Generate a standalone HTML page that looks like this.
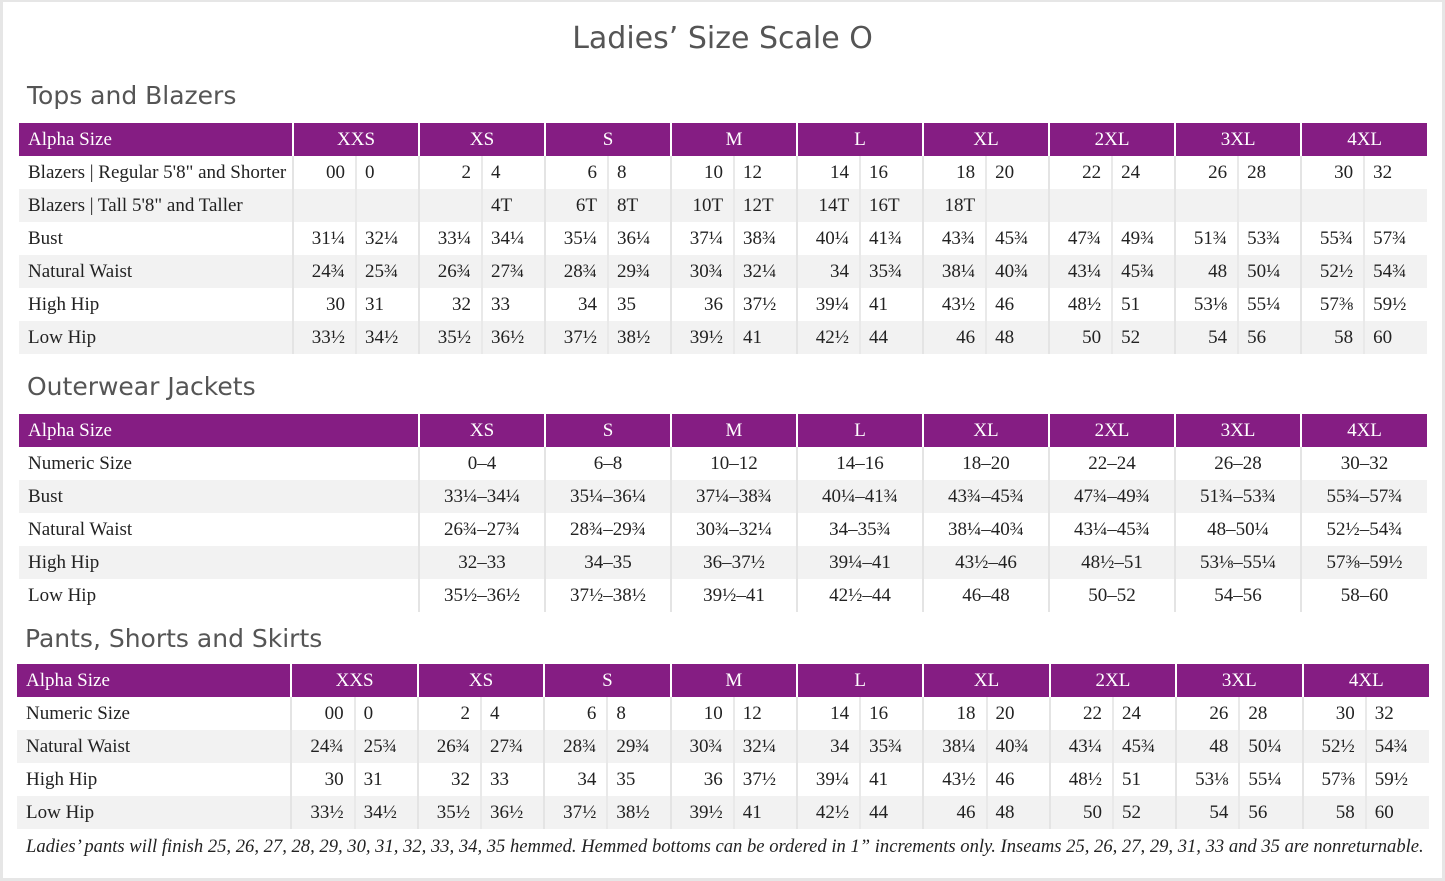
<!DOCTYPE html>
<html><head><meta charset="utf-8">
<style>
html,body{margin:0;padding:0;}
body{width:1445px;height:881px;position:relative;background:#fff;overflow:hidden;}
.frame{position:absolute;left:0;top:0;width:1439px;height:876px;border-left:3px solid #e6e6e6;border-top:2px solid #e6e6e6;border-right:3px solid #e6e6e6;border-bottom:3px solid #e6e6e6;}
.sans{font-family:"DejaVu Sans","Liberation Sans",sans-serif;color:#555;position:absolute;white-space:nowrap;}
h1{margin:0;font-weight:normal;font-size:30px;left:0;width:1445px;text-align:center;top:21px;}
.h2{font-size:25px;}
table{position:absolute;border-collapse:collapse;table-layout:fixed;font-family:"Liberation Serif",serif;font-size:19px;color:#222;}
td{height:33px;padding:0;white-space:nowrap;overflow:hidden;line-height:33px;}
tr.hd td{background:#851d83;color:#fff;text-align:center;border-left:2px solid #fff;height:33px;}
tr.hd td:first-child{border-left:none;text-align:left;padding-left:9px;}
tr.g td{background:#f2f2f2;}
td.lab{padding-left:9px;text-align:left;}
td.l{text-align:right;padding-right:10px;border-left:2px solid #e4e4e4;}
td.r{text-align:left;padding-left:8px;border-left:2px solid #e9e9e9;}
td.c{text-align:center;border-left:2px solid #e4e4e4;}
.note{position:absolute;left:26px;top:836px;font-family:"Liberation Serif",serif;font-style:italic;font-size:18.6px;color:#222;white-space:nowrap;}
</style></head><body>
<div class="frame"></div>
<h1 class="sans">Ladies’ Size Scale O</h1>
<div class="sans h2" style="left:27px;top:81px;">Tops and Blazers</div>

<table style="left:19px;top:123px;width:1408px;">
<colgroup><col style="width:274px"><col span="18" style="width:63px"></colgroup>
<tr class="hd"><td>Alpha Size</td><td colspan="2">XXS</td><td colspan="2">XS</td><td colspan="2">S</td><td colspan="2">M</td><td colspan="2">L</td><td colspan="2">XL</td><td colspan="2">2XL</td><td colspan="2">3XL</td><td colspan="2">4XL</td></tr>
<tr><td class="lab">Blazers | Regular 5'8" and Shorter</td><td class="l">00</td><td class="r">0</td><td class="l">2</td><td class="r">4</td><td class="l">6</td><td class="r">8</td><td class="l">10</td><td class="r">12</td><td class="l">14</td><td class="r">16</td><td class="l">18</td><td class="r">20</td><td class="l">22</td><td class="r">24</td><td class="l">26</td><td class="r">28</td><td class="l">30</td><td class="r">32</td></tr>
<tr class="g"><td class="lab">Blazers | Tall 5'8" and Taller</td><td class="l"></td><td class="r"></td><td class="l"></td><td class="r">4T</td><td class="l">6T</td><td class="r">8T</td><td class="l">10T</td><td class="r">12T</td><td class="l">14T</td><td class="r">16T</td><td class="l">18T</td><td class="r"></td><td class="l"></td><td class="r"></td><td class="l"></td><td class="r"></td><td class="l"></td><td class="r"></td></tr>
<tr><td class="lab">Bust</td><td class="l">31¼</td><td class="r">32¼</td><td class="l">33¼</td><td class="r">34¼</td><td class="l">35¼</td><td class="r">36¼</td><td class="l">37¼</td><td class="r">38¾</td><td class="l">40¼</td><td class="r">41¾</td><td class="l">43¾</td><td class="r">45¾</td><td class="l">47¾</td><td class="r">49¾</td><td class="l">51¾</td><td class="r">53¾</td><td class="l">55¾</td><td class="r">57¾</td></tr>
<tr class="g"><td class="lab">Natural Waist</td><td class="l">24¾</td><td class="r">25¾</td><td class="l">26¾</td><td class="r">27¾</td><td class="l">28¾</td><td class="r">29¾</td><td class="l">30¾</td><td class="r">32¼</td><td class="l">34</td><td class="r">35¾</td><td class="l">38¼</td><td class="r">40¾</td><td class="l">43¼</td><td class="r">45¾</td><td class="l">48</td><td class="r">50¼</td><td class="l">52½</td><td class="r">54¾</td></tr>
<tr><td class="lab">High Hip</td><td class="l">30</td><td class="r">31</td><td class="l">32</td><td class="r">33</td><td class="l">34</td><td class="r">35</td><td class="l">36</td><td class="r">37½</td><td class="l">39¼</td><td class="r">41</td><td class="l">43½</td><td class="r">46</td><td class="l">48½</td><td class="r">51</td><td class="l">53⅛</td><td class="r">55¼</td><td class="l">57⅜</td><td class="r">59½</td></tr>
<tr class="g"><td class="lab">Low Hip</td><td class="l">33½</td><td class="r">34½</td><td class="l">35½</td><td class="r">36½</td><td class="l">37½</td><td class="r">38½</td><td class="l">39½</td><td class="r">41</td><td class="l">42½</td><td class="r">44</td><td class="l">46</td><td class="r">48</td><td class="l">50</td><td class="r">52</td><td class="l">54</td><td class="r">56</td><td class="l">58</td><td class="r">60</td></tr>
</table>

<div class="sans h2" style="left:27px;top:372px;">Outerwear Jackets</div>
<table style="left:19px;top:414px;width:1408px;">
<colgroup><col style="width:400px"><col span="8" style="width:126px"></colgroup>
<tr class="hd"><td>Alpha Size</td><td>XS</td><td>S</td><td>M</td><td>L</td><td>XL</td><td>2XL</td><td>3XL</td><td>4XL</td></tr>
<tr><td class="lab">Numeric Size</td><td class="c">0–4</td><td class="c">6–8</td><td class="c">10–12</td><td class="c">14–16</td><td class="c">18–20</td><td class="c">22–24</td><td class="c">26–28</td><td class="c">30–32</td></tr>
<tr class="g"><td class="lab">Bust</td><td class="c">33¼–34¼</td><td class="c">35¼–36¼</td><td class="c">37¼–38¾</td><td class="c">40¼–41¾</td><td class="c">43¾–45¾</td><td class="c">47¾–49¾</td><td class="c">51¾–53¾</td><td class="c">55¾–57¾</td></tr>
<tr><td class="lab">Natural Waist</td><td class="c">26¾–27¾</td><td class="c">28¾–29¾</td><td class="c">30¾–32¼</td><td class="c">34–35¾</td><td class="c">38¼–40¾</td><td class="c">43¼–45¾</td><td class="c">48–50¼</td><td class="c">52½–54¾</td></tr>
<tr class="g"><td class="lab">High Hip</td><td class="c">32–33</td><td class="c">34–35</td><td class="c">36–37½</td><td class="c">39¼–41</td><td class="c">43½–46</td><td class="c">48½–51</td><td class="c">53⅛–55¼</td><td class="c">57⅜–59½</td></tr>
<tr><td class="lab">Low Hip</td><td class="c">35½–36½</td><td class="c">37½–38½</td><td class="c">39½–41</td><td class="c">42½–44</td><td class="c">46–48</td><td class="c">50–52</td><td class="c">54–56</td><td class="c">58–60</td></tr>
</table>

<div class="sans h2" style="left:25px;top:624px;">Pants, Shorts and Skirts</div>
<table style="left:17px;top:664px;width:1412px;">
<colgroup><col style="width:274px"><col span="18" style="width:63.1px"></colgroup>
<tr class="hd"><td>Alpha Size</td><td colspan="2">XXS</td><td colspan="2">XS</td><td colspan="2">S</td><td colspan="2">M</td><td colspan="2">L</td><td colspan="2">XL</td><td colspan="2">2XL</td><td colspan="2">3XL</td><td colspan="2">4XL</td></tr>
<tr><td class="lab">Numeric Size</td><td class="l">00</td><td class="r">0</td><td class="l">2</td><td class="r">4</td><td class="l">6</td><td class="r">8</td><td class="l">10</td><td class="r">12</td><td class="l">14</td><td class="r">16</td><td class="l">18</td><td class="r">20</td><td class="l">22</td><td class="r">24</td><td class="l">26</td><td class="r">28</td><td class="l">30</td><td class="r">32</td></tr>
<tr class="g"><td class="lab">Natural Waist</td><td class="l">24¾</td><td class="r">25¾</td><td class="l">26¾</td><td class="r">27¾</td><td class="l">28¾</td><td class="r">29¾</td><td class="l">30¾</td><td class="r">32¼</td><td class="l">34</td><td class="r">35¾</td><td class="l">38¼</td><td class="r">40¾</td><td class="l">43¼</td><td class="r">45¾</td><td class="l">48</td><td class="r">50¼</td><td class="l">52½</td><td class="r">54¾</td></tr>
<tr><td class="lab">High Hip</td><td class="l">30</td><td class="r">31</td><td class="l">32</td><td class="r">33</td><td class="l">34</td><td class="r">35</td><td class="l">36</td><td class="r">37½</td><td class="l">39¼</td><td class="r">41</td><td class="l">43½</td><td class="r">46</td><td class="l">48½</td><td class="r">51</td><td class="l">53⅛</td><td class="r">55¼</td><td class="l">57⅜</td><td class="r">59½</td></tr>
<tr class="g"><td class="lab">Low Hip</td><td class="l">33½</td><td class="r">34½</td><td class="l">35½</td><td class="r">36½</td><td class="l">37½</td><td class="r">38½</td><td class="l">39½</td><td class="r">41</td><td class="l">42½</td><td class="r">44</td><td class="l">46</td><td class="r">48</td><td class="l">50</td><td class="r">52</td><td class="l">54</td><td class="r">56</td><td class="l">58</td><td class="r">60</td></tr>
</table>

<div class="note">Ladies’ pants will finish 25, 26, 27, 28, 29, 30, 31, 32, 33, 34, 35 hemmed. Hemmed bottoms can be ordered in 1” increments only. Inseams 25, 26, 27, 29, 31, 33 and 35 are nonreturnable.</div>
</body></html>
